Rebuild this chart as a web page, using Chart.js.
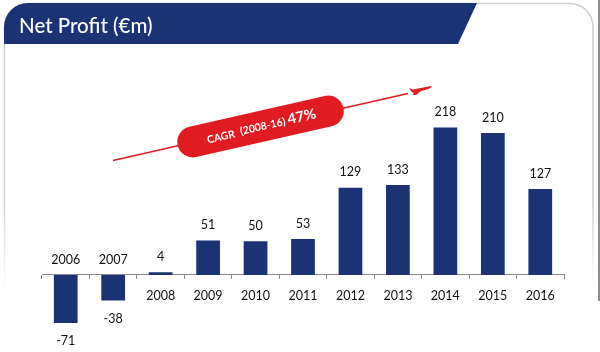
<!DOCTYPE html>
<html>
  <head>
    <script src="https://cdn.jsdelivr.net/npm/chart.js@4"></script>
    <style>
      html, body { margin: 0; padding: 0; background: #fff; }
      canvas { display: block; }
    </style>
  </head>

  <body>
    <canvas id="canvas" width="600" height="352"></canvas>
    <script>
      const years = ['2006', '2007', '2008', '2009', '2010', '2011', '2012', '2013', '2014', '2015', '2016'];
      const netProfit = [-71, -38, 4, 51, 50, 53, 129, 133, 218, 210, 127];
      const valueLabels = ['-71', '-38', '4', '51', '50', '53', '129', '133', '218', '210', '127'];
      const yearsAboveAxis = ['2006', '2007'];

      const navy = '#1b3374';
      const red = '#e11b22';
      const fontName = 'Lato, "Open Sans", sans-serif';

      // slide furniture behind the chart: frame and title banner
      const background = {
        id: 'background',
        beforeDraw(chart) {
          const c = chart.ctx;
          c.save();
          c.fillStyle = '#8e8e8e';
          c.fillRect(598, 0, 2, 301);

          const frame = c.createLinearGradient(0, 200, 0, 290);
          frame.addColorStop(0, '#cfcfcf');
          frame.addColorStop(1, '#ffffff');
          c.strokeStyle = frame;
          c.lineWidth = 1.5;
          c.beginPath();
          c.moveTo(4.5, 290);
          c.lineTo(4.5, 30);
          c.arcTo(4.5, 3.5, 30, 3.5, 24);
          c.lineTo(570, 3.5);
          c.arcTo(593, 3.5, 593, 28, 23);
          c.lineTo(593, 290);
          c.stroke();

          c.fillStyle = navy;
          c.beginPath();
          c.moveTo(4, 44);
          c.lineTo(4, 27);
          c.arcTo(4, 3, 28, 3, 24);
          c.lineTo(477, 3);
          c.lineTo(458, 44);
          c.closePath();
          c.fill();

          c.fillStyle = '#fff';
          c.font = '500 20.5px ' + fontName;
          c.textAlign = 'left';
          c.textBaseline = 'middle';
          c.fillText('Net Profit (€m)', 19, 26);
          c.restore();
        },
      };

      // value labels, the two years sat above the axis, and the CAGR arrow
      const overlay = {
        id: 'overlay',
        afterDraw(chart) {
          const c = chart.ctx;
          const x = chart.scales.x;
          const y = chart.scales.y;
          c.save();
          c.fillStyle = '#111';
          c.font = '12.5px ' + fontName;
          c.textAlign = 'center';
          c.textBaseline = 'middle';
          years.forEach((year, i) => {
            const px = x.getPixelForValue(i);
            const py = y.getPixelForValue(netProfit[i]);
            c.fillText(valueLabels[i], px, netProfit[i] < 0 ? py + 18.5 : py - 15.5);
            if (yearsAboveAxis.includes(year)) {
              c.fillText(year, px, y.getPixelForValue(0) - 15);
            }
          });

          c.strokeStyle = red;
          c.lineWidth = 1.5;
          c.beginPath();
          c.moveTo(113, 160.5);
          c.lineTo(408, 93.5);
          c.stroke();

          // little plane on the end of the line
          c.fillStyle = red;
          c.beginPath();
          c.moveTo(409, 88);
          c.lineTo(413, 89.5);
          c.lineTo(426, 87);
          c.quadraticCurveTo(431, 86, 432, 86);
          c.quadraticCurveTo(431, 88.5, 425, 90);
          c.lineTo(421, 91);
          c.lineTo(416, 95);
          c.lineTo(412.5, 95);
          c.lineTo(414, 92.5);
          c.lineTo(412, 92.5);
          c.closePath();
          c.fill();

          c.translate(260.5, 126.5);
          c.rotate(-12.8 * Math.PI / 180);
          c.beginPath();
          c.roundRect(-85, -15.5, 170, 31, 15.5);
          c.fill();
          c.fillStyle = '#fff';
          c.textAlign = 'left';
          c.font = '700 10.5px ' + fontName;
          c.fillText('CAGR', -55, 1.5);
          c.fillText('(2008-16)', -21, 0.5);
          c.font = '700 14.5px ' + fontName;
          c.fillText('47%', 28, -0.5);
          c.restore();
        },
      };

      new Chart(document.getElementById('canvas').getContext('2d'), {
        type: 'bar',
        data: {
          labels: years,
          datasets: [
            {
              label: 'Net Profit (€m)',
              data: netProfit,
              backgroundColor: navy,
              barPercentage: 0.5,
              categoryPercentage: 1,
            },
          ],
        },
        plugins: [background, overlay],
        options: {
          responsive: false,
          animation: false,
          layout: {
            padding: { left: 42, right: 36, top: 106, bottom: 9.5 },
          },
          plugins: {
            legend: { display: false },
            tooltip: { enabled: false },
          },
          scales: {
            x: {
              position: { y: 0 },
              border: { color: '#8a8a8a', width: 1 },
              grid: { drawOnChartArea: false, tickLength: 4, color: '#8a8a8a', offset: true },
              ticks: {
                color: '#111',
                font: { family: fontName, size: 12.5 },
                padding: 10,
                maxRotation: 0,
                autoSkip: false,
                callback(value) {
                  const year = this.getLabelForValue(value);
                  return yearsAboveAxis.includes(year) ? '' : year;
                },
              },
            },
            y: {
              display: false,
              min: -100,
              max: 250,
            },
          },
        },
      });
    </script>
  </body>
</html>
